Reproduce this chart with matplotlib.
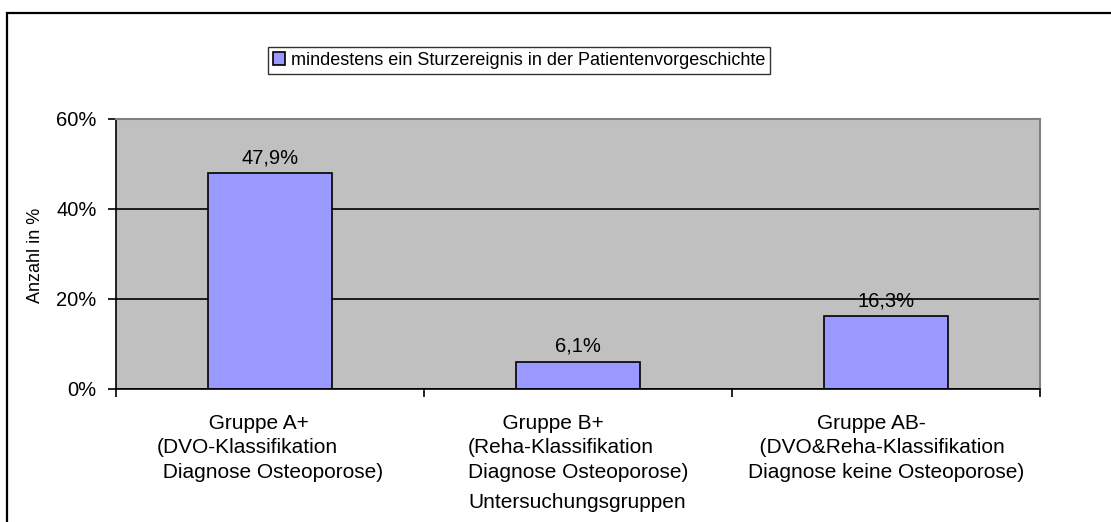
import matplotlib.pyplot as plt
from matplotlib.patches import Rectangle

plt.rcParams['font.family'] = ['Liberation Sans', 'DejaVu Sans']

# data
groups = ['Gruppe A+', 'Gruppe B+', 'Gruppe AB-']
group_labels = [
    '         Gruppe A+\n(DVO-Klassifikation\n Diagnose Osteoporose)',
    '      Gruppe B+\n(Reha-Klassifikation\nDiagnose Osteoporose)',
    '            Gruppe AB-\n  (DVO&Reha-Klassifikation\nDiagnose keine Osteoporose)',
]
values = [47.9, 6.1, 16.3]
value_labels = ['47,9%', '6,1%', '16,3%']
series_name = 'mindestens ein Sturzereignis in der Patientenvorgeschichte'
yticks = [0, 20, 40, 60]
ytick_labels = ['0%', '20%', '40%', '60%']

W, H = 1111, 522
fig = plt.figure(figsize=(W / 100, H / 100), dpi=100)
ax = fig.add_axes([116 / W, 1 - 389 / H, (1040 - 116) / W, (389 - 119) / H])

x = range(len(groups))
bars = ax.bar(x, values, width=0.40, color='#9999FF', edgecolor='black',
              linewidth=1.2, label=series_name, zorder=2)

for b, lab in zip(bars, value_labels):
    ax.annotate(lab, (b.get_x() + b.get_width() / 2, b.get_height()),
                xytext=(0, 4), textcoords='offset points',
                ha='center', va='bottom', fontsize=14.5)

ax.set_facecolor('#C0C0C0')
ax.set_xlim(-0.5, len(groups) - 0.5)
ax.set_ylim(0, 60)
ax.set_yticks(yticks)
ax.set_yticklabels(ytick_labels, fontsize=14.5)
ax.set_axisbelow(True)
ax.yaxis.grid(True, color='black', linewidth=1.2)

# category boundaries as major ticks, labels on centers
ax.set_xticks([i - 0.5 for i in range(len(groups) + 1)])
ax.set_xticklabels([])
ax.set_xticks(list(x), minor=True)
ax.set_xticklabels(group_labels, minor=True, fontsize=15, ha='center',
                   multialignment='left', linespacing=1.35)
ax.tick_params(axis='x', which='minor', length=0, pad=18)
ax.tick_params(axis='x', which='major', length=6, width=1.2, direction='out')
ax.tick_params(axis='y', length=6, width=1.2, direction='out', pad=8)

for s in ['left', 'bottom']:
    ax.spines[s].set_color('black')
    ax.spines[s].set_linewidth(1.2)
for s in ['top', 'right']:
    ax.spines[s].set_color('#808080')
    ax.spines[s].set_linewidth(1.5)

fig.text(35 / W, 1 - 255 / H, 'Anzahl in %', rotation=90, ha='center',
         va='center', fontsize=13)
fig.text(577 / W, 1 - 503 / H, 'Untersuchungsgruppen', ha='center',
         va='center', fontsize=15)

leg = fig.legend(loc='center', bbox_to_anchor=(519 / W, 1 - 60.5 / H),
                 fontsize=13, frameon=True, fancybox=False, shadow=False,
                 handlelength=0.7, handleheight=0.7, handletextpad=0.3,
                 borderpad=0.25, borderaxespad=0)
leg.get_frame().set_edgecolor('black')
leg.get_frame().set_linewidth(1.0)

# outer chart border
fig.patches.append(Rectangle((7 / W, -0.1), 1.2, 1.1 - 13 / H,
                             transform=fig.transFigure, fill=False,
                             edgecolor='black', linewidth=1.6))

fig.savefig('out.png', dpi=100)
